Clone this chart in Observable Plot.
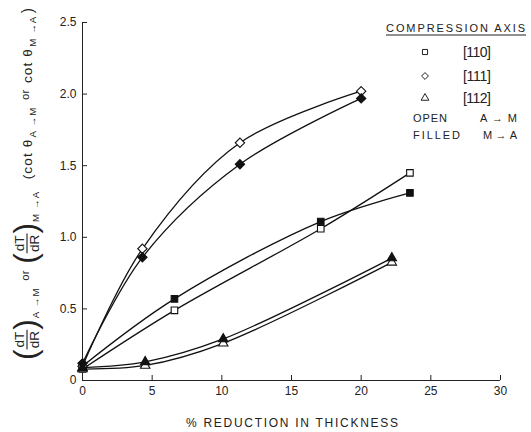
<!DOCTYPE html>
<html>
<head>
<meta charset="utf-8">
<script src="https://cdn.jsdelivr.net/npm/d3@7"></script>
<script src="https://cdn.jsdelivr.net/npm/@observablehq/plot@0.6"></script>
<style>
  html, body { margin: 0; padding: 0; background: #fff; }
  #chart { width: 531px; height: 432px; }
</style>
</head>
<body>
<div id="chart"></div>
<script>
// ---- data ----
const xTicks = [0, 5, 10, 15, 20, 25, 30];
const yTicks = [0, 0.5, 1.0, 1.5, 2.0, 2.5];

// [110] squares
const pctSquare = [0, 6.6, 17.1, 23.5];
const squareOpen = [0.08, 0.49, 1.06, 1.45];   // A->M
const squareFilled = [0.10, 0.57, 1.11, 1.31]; // M->A
// [111] diamonds
const pctDiamond = [0, 4.3, 11.3, 20.0];
const diamondOpen = [0.10, 0.92, 1.66, 2.02];
const diamondFilled = [0.12, 0.86, 1.51, 1.97];
// [112] triangles
const pctTriangle = [0, 4.5, 10.1, 22.2];
const triangleOpen = [0.08, 0.105, 0.26, 0.825];
const triangleFilled = [0.09, 0.13, 0.29, 0.855];

const legendAxes = ["[110]", "[111]", "[112]"];
const FONT = "'Liberation Sans', Arial, sans-serif";

// ---- table built from the arrays ----
const seriesDefs = [
  {key: "sqO", symbol: "square", filled: false, x: pctSquare, y: squareOpen},
  {key: "sqF", symbol: "square", filled: true, x: pctSquare, y: squareFilled},
  {key: "diO", symbol: "diamond2", filled: false, x: pctDiamond, y: diamondOpen},
  {key: "diF", symbol: "diamond2", filled: true, x: pctDiamond, y: diamondFilled},
  {key: "trO", symbol: "triangle", filled: false, x: pctTriangle, y: triangleOpen},
  {key: "trF", symbol: "triangle", filled: true, x: pctTriangle, y: triangleFilled}
];
const rows = seriesDefs.flatMap(s => s.x.map((xv, i) => ({key: s.key, symbol: s.symbol, filled: s.filled, x: xv, y: s.y[i]})));
const rOf = s => s === "diamond2" ? 4.2 : s === "square" ? 3.7 : 3.5;

const plot = Plot.plot({
  width: 531,
  height: 432,
  marginLeft: 82,
  marginRight: 31,
  marginTop: 22,
  marginBottom: 52,
  x: {domain: [0, 30]},
  y: {domain: [0, 2.5]},
  style: {fontFamily: FONT, fontSize: "12px", background: "#fff", color: "#222"},
  marks: [
    Plot.ruleX([0], {y1: 0, y2: 2.5, stroke: "#222", strokeWidth: 1}),
    Plot.ruleY([0], {x1: 0, x2: 30, stroke: "#222", strokeWidth: 1}),
    Plot.ruleX(xTicks.slice(1), {x: d => d, y1: 0, y2: 0.035, stroke: "#222"}),
    Plot.ruleY(yTicks.slice(1), {y: d => d, x1: 0, x2: 0.36, stroke: "#222"}),
    Plot.axisX({ticks: xTicks, tickSize: 0, tickPadding: 6, label: null, tickFormat: d => String(d)}),
    Plot.axisY({ticks: yTicks, tickSize: 0, tickPadding: 6, label: null, tickFormat: d => d === 0 ? "0" : d3.format(".1f")(d)}),
    Plot.line(rows, {x: "x", y: "y", z: "key", curve: "catmull-rom", stroke: "#111", strokeWidth: 1.3}),
    ...["square", "diamond2", "triangle"].map(sym =>
      Plot.dot(rows.filter(d => d.symbol === sym), {
        x: "x", y: "y", symbol: sym, r: rOf(sym),
        fill: d => d.filled ? "#111" : "#fff",
        stroke: "#111", strokeWidth: 1.1
      }))
  ]
});
document.getElementById("chart").appendChild(plot);

const svg = d3.select(plot);

// ---- x axis title ----
svg.append("text")
  .attr("x", 292).attr("y", 427)
  .attr("text-anchor", "middle")
  .attr("font-family", FONT).attr("font-size", 12).attr("fill", "#222")
  .attr("textLength", 212).attr("lengthAdjust", "spacing")
  .text("% REDUCTION IN THICKNESS");

// ---- y axis title (rotated, with fractions) ----
const ylab = svg.append("g").attr("font-family", FONT).attr("fill", "#222").attr("text-anchor", "start");
let cx = 0;
function put(str, size, y, gapBefore = 0, gapAfter = 0, ls = 0) {
  cx += gapBefore;
  const t = ylab.append("text").attr("x", cx).attr("y", y).attr("font-size", size)
    .attr("letter-spacing", ls).text(str);
  cx += t.node().getComputedTextLength() + gapAfter;
}
function frac() {
  const a = ylab.append("text").attr("y", -3).attr("font-size", 12).text("dT");
  const b = ylab.append("text").attr("y", 11).attr("font-size", 12).text("dR");
  const wa = a.node().getComputedTextLength(), wb = b.node().getComputedTextLength();
  const w = Math.max(wa, wb) + 2;
  a.attr("x", cx + (w - wa) / 2);
  b.attr("x", cx + (w - wb) / 2);
  ylab.append("line").attr("x1", cx).attr("x2", cx + w).attr("y1", 0).attr("y2", 0)
    .attr("stroke", "#222").attr("stroke-width", 1);
  cx += w;
}
put("(", 28, 8);
frac();
put(")", 28, 8);
put("A \u2192M", 8.5, 11, 1, 6, 1);
put("or", 10, 2, 0, 6);
put("(", 28, 8);
frac();
put(")", 28, 8);
put("M \u2192A", 8.5, 11, 1, 10, 1);
put("(cot \u03b8", 12, 4, 0, 0, 1);
put("A \u2192M", 8.5, 8, 1, 6, 1);
put("or", 10, 2, 0, 6);
put("cot \u03b8", 12, 4, 0, 0, 1);
put("M \u2192A", 8.5, 8, 1, 2, 1);
put(")", 14, 5);
const W = cx;
const targetLen = 352;
const k = Math.min(1.2, targetLen / W);
const cyLab = 184;
ylab.attr("transform", `translate(27,${cyLab + W * k / 2}) rotate(-90) scale(${k})`);

// ---- legend ----
const leg = svg.append("g").attr("font-family", FONT).attr("fill", "#222").attr("text-anchor", "start");
leg.append("text").attr("x", 386).attr("y", 32).attr("font-size", 11)
  .attr("textLength", 139).attr("lengthAdjust", "spacing").text("COMPRESSION AXIS");
leg.append("line").attr("x1", 386).attr("x2", 526).attr("y1", 35).attr("y2", 35)
  .attr("stroke", "#222").attr("stroke-width", 1);
const legSyms = [d3.symbolSquare, d3.symbolDiamond2, d3.symbolTriangle];
const legY = [52, 76, 98];
legendAxes.forEach((lab, i) => {
  leg.append("path")
    .attr("d", d3.symbol(legSyms[i], i === 1 ? 30 : 26)())
    .attr("transform", `translate(425,${legY[i]})`)
    .attr("fill", "#fff").attr("stroke", "#222").attr("stroke-width", 1);
  leg.append("text").attr("x", 463).attr("y", legY[i] + 5).attr("font-size", 14)
    .attr("textLength", 28).attr("lengthAdjust", "spacing").text(lab);
});
leg.append("text").attr("x", 413).attr("y", 122).attr("font-size", 11)
  .attr("textLength", 34).attr("lengthAdjust", "spacing").text("OPEN");
leg.append("text").attr("x", 480).attr("y", 122).attr("font-size", 11)
  .attr("textLength", 37).attr("lengthAdjust", "spacing").text("A\u2192M");
leg.append("text").attr("x", 413).attr("y", 139).attr("font-size", 11)
  .attr("textLength", 47).attr("lengthAdjust", "spacing").text("FILLED");
leg.append("text").attr("x", 483).attr("y", 139).attr("font-size", 11)
  .attr("textLength", 34).attr("lengthAdjust", "spacing").text("M\u2192A");
</script>
</body>
</html>
